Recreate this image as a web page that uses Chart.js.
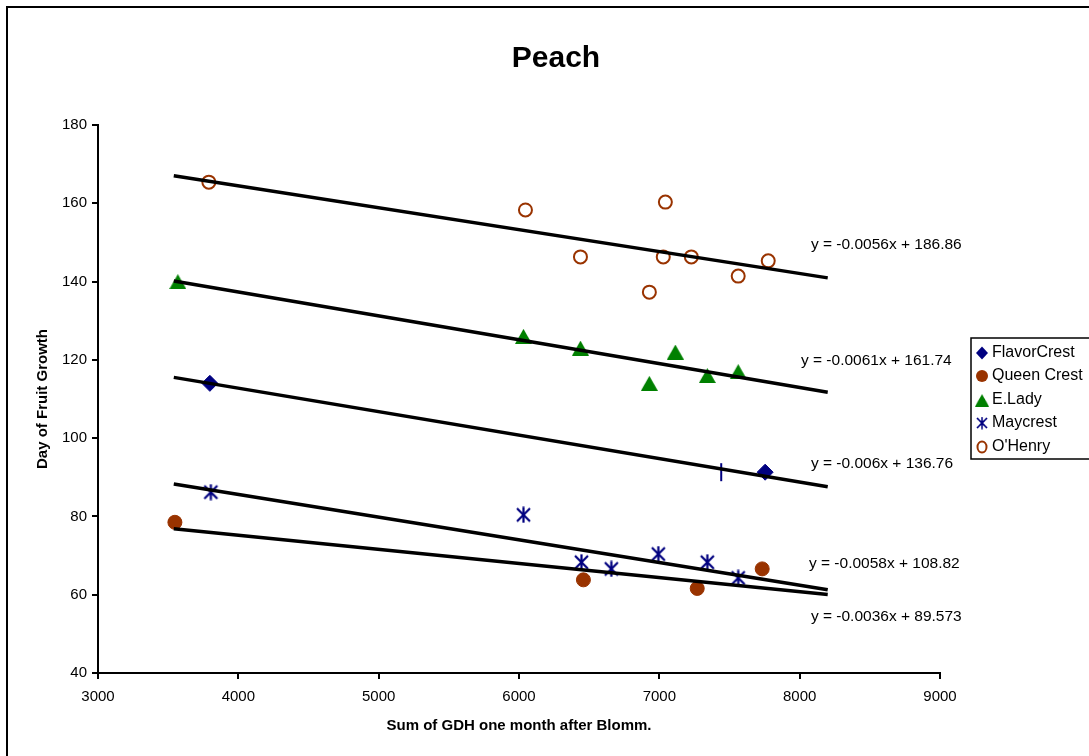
<!DOCTYPE html>
<html>
<head>
<meta charset="utf-8">
<title>Peach</title>
<script src="https://cdn.jsdelivr.net/npm/chart.js@4.4.0/dist/chart.umd.min.js"></script>
<style>
    html, body { margin: 0; padding: 0; background: #ffffff; }
    #wrap { width: 1089px; height: 756px; }
</style>
</head>
<body>
<div id="wrap"><canvas id="peachChart" width="1089" height="756"></canvas></div>
<script>
// Series values
const flavorX = [3797, 7754, 7441];
const flavorY = [114, 91.3, 91.3];
const queenX = [3548, 6459, 7270, 7733];
const queenY = [78.5, 63.8, 61.6, 66.6];
const ladyX = [3569, 6032, 6438, 7114, 6929, 7342, 7562];
const ladyY = [140, 126, 123, 122, 114, 116, 117];
const mayX = [3804, 6032, 6445, 6658, 6993, 7342, 7562];
const mayY = [86.2, 80.4, 68.3, 66.6, 70.4, 68.3, 64.3];
const henryX = [3790, 6046, 6438, 7043, 7028, 7228, 6929, 7562, 7776];
const henryY = [165.4, 158.3, 146.3, 160.3, 146.3, 146.3, 137.3, 141.4, 145.3];

// Trendline end points (from the printed equations)
const trendX = [3540, 8200];
const trendFlavor = [115.52, 87.56];
const trendQueen = [76.83, 60.05];
const trendLady = [140.15, 111.72];
const trendMay = [88.29, 61.26];
const trendHenry = [167.04, 140.94];

// Equation labels and where they sit (data units)
const eqText = ['y = -0.0056x + 186.86', 'y = -0.0061x + 161.74', 'y = -0.006x + 136.76', 'y = -0.0058x + 108.82', 'y = -0.0036x + 89.573'];
const eqX = [8080, 8009, 8080, 8066, 8080];
const eqY = [149.3, 119.7, 93.4, 67.8, 54.5];

const seriesNames = ['FlavorCrest', 'Queen Crest', 'E.Lady', 'Maycrest', "O'Henry"];

const NAVY = '#000080';
const BROWN = '#993300';
const GREEN = '#008000';
const FONT = "'Liberation Sans', Arial, sans-serif";

// small canvases for markers chart.js has no exact match for
const makeAsterisk = () => {
    const c = document.createElement('canvas');
    c.width = 17; c.height = 17;
    const g = c.getContext('2d');
    g.strokeStyle = NAVY;
    g.lineWidth = 2.2;
    g.beginPath();
    g.moveTo(2, 2); g.lineTo(15, 15);
    g.moveTo(15, 2); g.lineTo(2, 15);
    g.moveTo(8.5, 0.5); g.lineTo(8.5, 16.5);
    g.stroke();
    return c;
};

const makeTriangle = () => {
    const c = document.createElement('canvas');
    c.width = 17; c.height = 15;
    const g = c.getContext('2d');
    g.fillStyle = GREEN;
    g.beginPath();
    g.moveTo(8.5, 0); g.lineTo(17, 15); g.lineTo(0, 15);
    g.closePath();
    g.fill();
    return c;
};

const asteriskImg = makeAsterisk();
const triangleImg = makeTriangle();

const toPoints = (xs, ys) => xs.map((x, i) => ({ x: x, y: ys[i] }));

const trendSet = (ys) => ({
    data: toPoints(trendX, ys),
    showLine: true,
    borderColor: '#000000',
    borderWidth: 3.5,
    pointRadius: 0,
    fill: false,
    order: 0
});

// background, outer frame, title, equations, legend
const decorPlugin = {
    id: 'decor',
    beforeDraw(chart) {
        const ctx = chart.ctx;
        ctx.save();
        ctx.fillStyle = '#ffffff';
        ctx.fillRect(0, 0, chart.width, chart.height);
        ctx.strokeStyle = '#000000';
        ctx.lineWidth = 2;
        ctx.beginPath();
        ctx.moveTo(7, chart.height + 5);
        ctx.lineTo(7, 7);
        ctx.lineTo(chart.width + 5, 7);
        ctx.stroke();
        ctx.restore();
    },
    afterDraw(chart) {
        const ctx = chart.ctx;
        const xs = chart.scales.x;
        const ys = chart.scales.y;
        ctx.save();

        ctx.fillStyle = '#000000';
        ctx.font = 'bold 30px ' + FONT;
        ctx.textAlign = 'center';
        ctx.textBaseline = 'middle';
        ctx.fillText('Peach', 556, 59);

        ctx.font = '15.5px ' + FONT;
        ctx.textAlign = 'left';
        eqText.forEach((t, i) => {
            ctx.fillText(t, xs.getPixelForValue(eqX[i]), ys.getPixelForValue(eqY[i]));
        });

        // legend box
        ctx.lineWidth = 1.5;
        ctx.strokeStyle = '#000000';
        ctx.strokeRect(971, 338, 125, 121);
        const rowY = [353, 376, 400, 423, 447];
        ctx.font = '16px ' + FONT;
        seriesNames.forEach((name, i) => {
            const mx = 982, my = rowY[i];
            ctx.save();
            if (i === 0) {
                ctx.fillStyle = NAVY;
                ctx.beginPath();
                ctx.moveTo(mx, my - 6.5); ctx.lineTo(mx + 6, my);
                ctx.lineTo(mx, my + 6.5); ctx.lineTo(mx - 6, my);
                ctx.closePath(); ctx.fill();
            } else if (i === 1) {
                ctx.fillStyle = BROWN;
                ctx.beginPath(); ctx.arc(mx, my, 6, 0, Math.PI * 2); ctx.fill();
            } else if (i === 2) {
                ctx.drawImage(triangleImg, mx - 7, my - 6, 14, 12.5);
            } else if (i === 3) {
                ctx.drawImage(asteriskImg, mx - 6.5, my - 6.5, 13, 13);
            } else {
                ctx.strokeStyle = BROWN;
                ctx.lineWidth = 2;
                ctx.beginPath(); ctx.ellipse(mx, my, 4.5, 5.5, 0, 0, Math.PI * 2); ctx.stroke();
            }
            ctx.restore();
            ctx.fillStyle = '#000000';
            ctx.fillText(name, 992, my);
        });
        ctx.restore();
    }
};

Chart.defaults.color = '#000000';
Chart.defaults.font.family = FONT;

new Chart(document.getElementById('peachChart').getContext('2d'), {
    type: 'scatter',
    data: {
        datasets: [
            trendSet(trendHenry),
            trendSet(trendLady),
            trendSet(trendFlavor),
            trendSet(trendMay),
            trendSet(trendQueen),
            {
                label: seriesNames[0],
                data: toPoints(flavorX, flavorY),
                pointStyle: ['rectRot', 'rectRot', 'line'],
                rotation: [0, 0, 90],
                pointRadius: [8, 8, 9],
                backgroundColor: NAVY,
                borderColor: NAVY,
                borderWidth: [1, 1, 2],
                order: 1
            },
            {
                label: seriesNames[1],
                data: toPoints(queenX, queenY),
                pointStyle: 'circle',
                pointRadius: 7,
                backgroundColor: BROWN,
                borderColor: BROWN,
                borderWidth: 1,
                order: 1
            },
            {
                label: seriesNames[2],
                data: toPoints(ladyX, ladyY),
                pointStyle: triangleImg,
                order: 1
            },
            {
                label: seriesNames[3],
                data: toPoints(mayX, mayY),
                pointStyle: asteriskImg,
                order: 1
            },
            {
                label: seriesNames[4],
                data: toPoints(henryX, henryY),
                pointStyle: 'circle',
                pointRadius: 6.5,
                backgroundColor: 'rgba(0,0,0,0)',
                borderColor: BROWN,
                borderWidth: 2,
                order: 1
            }
        ]
    },
    options: {
        responsive: false,
        animation: false,
        layout: { padding: { left: 8, top: 125, right: 149, bottom: 0 } },
        plugins: {
            legend: { display: false },
            title: { display: false },
            tooltip: { enabled: false }
        },
        scales: {
            x: {
                type: 'linear',
                min: 3000,
                max: 9000,
                afterFit: (s) => { s.height = 83; },
                ticks: {
                    stepSize: 1000,
                    padding: 9,
                    font: { size: 15 },
                    callback: (v) => String(v)
                },
                grid: { drawOnChartArea: false, tickLength: 6, lineWidth: 2, color: '#000000' },
                border: { color: '#000000', width: 2 },
                title: {
                    display: true,
                    text: 'Sum of GDH one month after Blomm.',
                    font: { size: 15, weight: 'bold' },
                    padding: { top: 0, bottom: 21 }
                }
            },
            y: {
                min: 40,
                max: 180,
                afterFit: (s) => { s.width = 90; },
                ticks: {
                    stepSize: 20,
                    padding: 5,
                    font: { size: 15 }
                },
                grid: { drawOnChartArea: false, tickLength: 6, lineWidth: 2, color: '#000000' },
                border: { color: '#000000', width: 2 },
                title: {
                    display: true,
                    text: 'Day of Fruit Growth',
                    font: { size: 15, weight: 'bold' },
                    padding: { top: 26, bottom: 0 }
                }
            }
        }
    },
    plugins: [decorPlugin]
});
</script>
</body>
</html>
